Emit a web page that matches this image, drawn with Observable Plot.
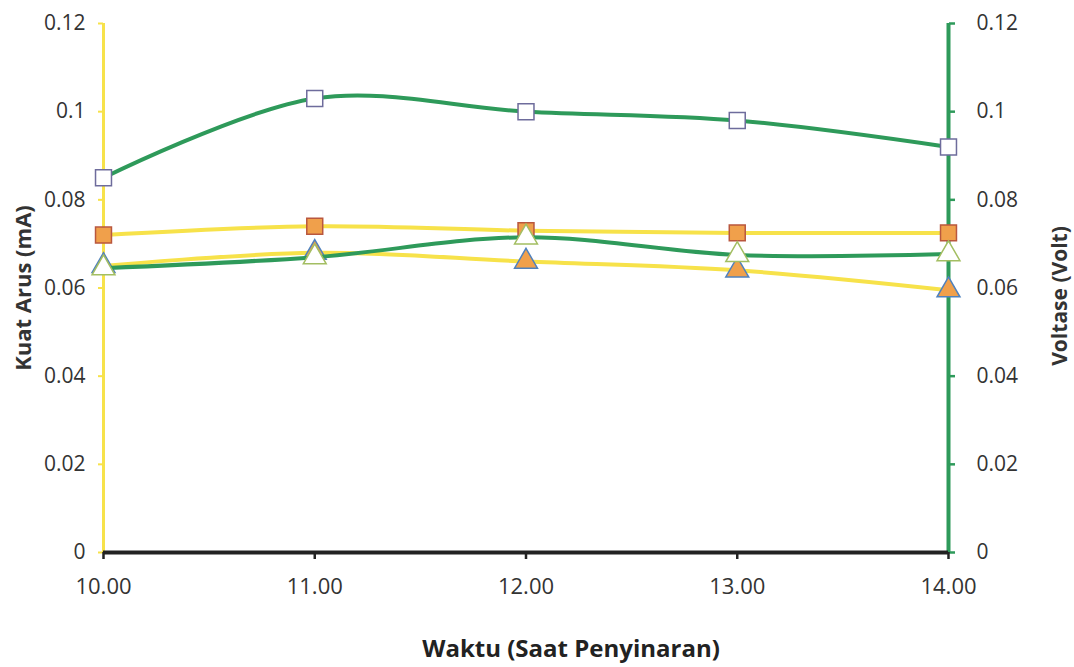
<!DOCTYPE html>
<html>
<head>
<meta charset="utf-8">
<script src="https://cdn.jsdelivr.net/npm/d3@7"></script>
<script src="https://cdn.jsdelivr.net/npm/@observablehq/plot@0.6"></script>
<style>
  html, body { margin: 0; padding: 0; background: #fff; }
  #chart svg { display: block; }
</style>
</head>
<body>
<div id="chart"></div>
<script>
// Data
const times = [10, 11, 12, 13, 14];
const timeLabels = ["10.00", "11.00", "12.00", "13.00", "14.00"];
const arusSquare = [0.072, 0.074, 0.073, 0.0725, 0.0725];     // left axis (yellow line, orange squares)
const arusTriangle = [0.065, 0.068, 0.066, 0.064, 0.0595];    // left axis (yellow line, orange triangles)
const voltSquare = [0.085, 0.103, 0.100, 0.098, 0.092];       // right axis (green line, white squares)
const voltTriangle = [0.0645, 0.067, 0.0715, 0.0675, 0.0677]; // right axis (green line, white triangles)
const yTicks = [0, 0.02, 0.04, 0.06, 0.08, 0.1, 0.12];
const yTickLabels = ["0", "0.02", "0.04", "0.06", "0.08", "0.1", "0.12"];

const rows = (vals) => times.map((t, i) => ({t, v: vals[i]}));

const YELLOW = "#F7E24A";
const GREEN = "#2E9A5A";
const FONT = "'Open Sans', sans-serif";
const TXT = "#333";

const chart = Plot.plot({
  width: 1074,
  height: 667,
  marginLeft: 103,
  marginRight: 126,
  marginTop: 23,
  marginBottom: 115,
  style: {fontFamily: FONT, fontSize: "21px", color: TXT, background: "#fff"},
  x: {domain: [10, 14]},
  y: {domain: [0, 0.12]},
  marks: [
    // axis lines
    Plot.ruleX([10], {y1: 0, y2: 0.12, stroke: YELLOW, strokeWidth: 3}),
    Plot.ruleX([14], {y1: 0, y2: 0.12, stroke: GREEN, strokeWidth: 4}),
    Plot.ruleY([0], {stroke: "#222", strokeWidth: 4}),
    // left axis
    Plot.axisY({anchor: "left", ticks: yTicks, tickFormat: (d) => yTickLabels[yTicks.indexOf(d)],
      tickSize: 5, tickPadding: 13, fontSize: 21, stroke: YELLOW, strokeWidth: 2, fill: TXT, label: null}),
    // right axis
    Plot.axisY({anchor: "right", ticks: yTicks, tickFormat: (d) => yTickLabels[yTicks.indexOf(d)],
      tickSize: 6, tickPadding: 22, fontSize: 21, stroke: GREEN, strokeWidth: 2.5, fill: TXT, label: null}),
    // x axis
    Plot.axisX({ticks: times, tickFormat: (d) => timeLabels[times.indexOf(d)],
      tickSize: 7, tickPadding: 19, fontSize: 22, stroke: "#222", strokeWidth: 2.5, fill: TXT, label: null}),
    // yellow series (left axis)
    Plot.line(rows(arusSquare), {x: "t", y: "v", stroke: YELLOW, strokeWidth: 4, curve: "catmull-rom"}),
    Plot.line(rows(arusTriangle), {x: "t", y: "v", stroke: YELLOW, strokeWidth: 4, curve: "catmull-rom"}),
    Plot.dot(rows(arusSquare), {x: "t", y: "v", symbol: "square", r: 9, fill: "#F0A04B", stroke: "#B9573E", strokeWidth: 1.5}),
    Plot.dot(rows(arusTriangle), {x: "t", y: "v", symbol: "triangle", r: 8.5, fill: "#F0A04B", stroke: "#4F81BD", strokeWidth: 1.5}),
    // green series (right axis)
    Plot.line(rows(voltSquare), {x: "t", y: "v", stroke: GREEN, strokeWidth: 4, curve: "catmull-rom"}),
    Plot.line(rows(voltTriangle), {x: "t", y: "v", stroke: GREEN, strokeWidth: 4, curve: "catmull-rom"}),
    Plot.dot(rows(voltSquare), {x: "t", y: "v", symbol: "square", r: 9, fill: "#fff", stroke: "#6E6C9C", strokeWidth: 1.5}),
    Plot.dot(rows(voltTriangle), {x: "t", y: "v", symbol: "triangle", r: 8.5, fill: "#fff", stroke: "#A3BE62", strokeWidth: 1.5}),
    // axis titles
    Plot.text(["Kuat Arus (mA)"], {frameAnchor: "left", dx: -80, rotate: -90, textAnchor: "middle", fontWeight: "bold", fontSize: 22, fill: TXT}),
    Plot.text(["Voltase (Volt)"], {frameAnchor: "right", dx: 112, dy: 8, rotate: -90, textAnchor: "middle", fontWeight: "bold", fontSize: 21, fill: TXT}),
    Plot.text(["Waktu (Saat Penyinaran)"], {frameAnchor: "bottom", dx: 45, dy: 104, textAnchor: "middle", fontWeight: "bold", fontSize: 24, fill: "#222"})
  ]
});
document.getElementById("chart").append(chart);
</script>
</body>
</html>
